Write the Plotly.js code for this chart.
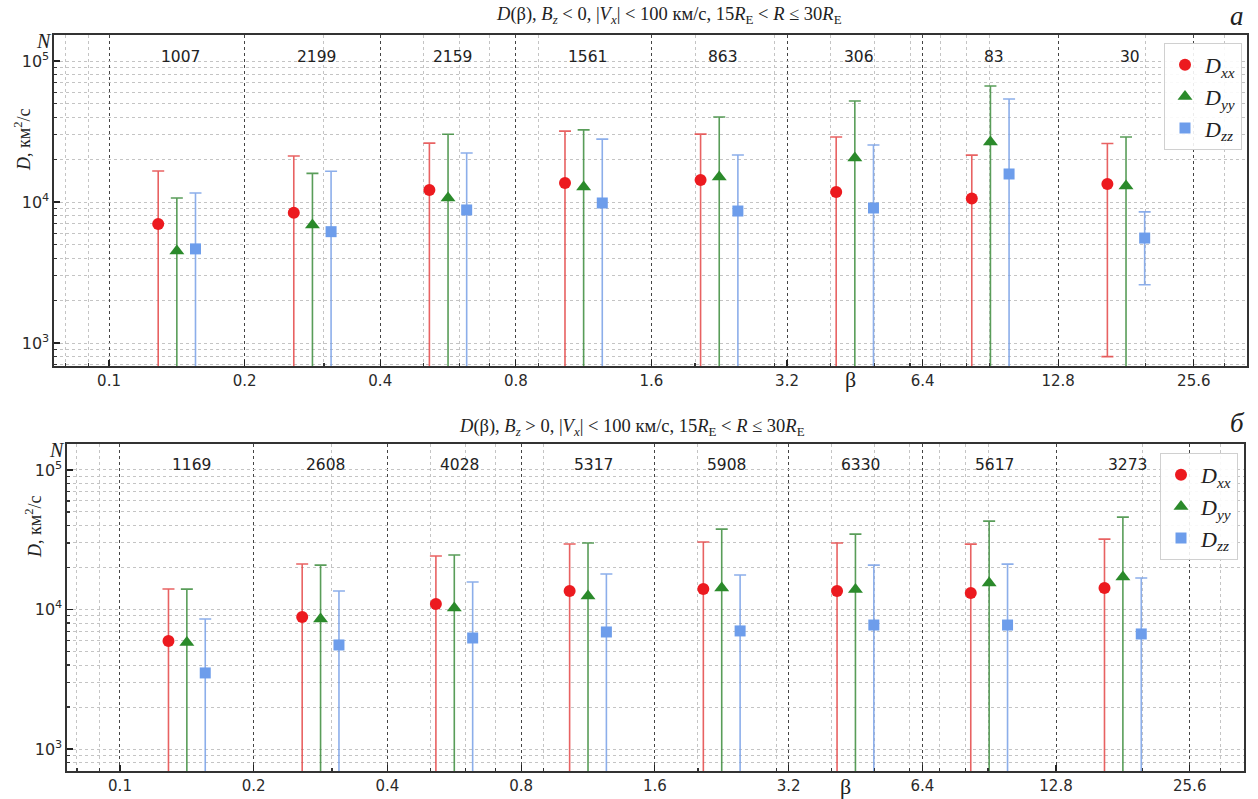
<!DOCTYPE html>
<html><head><meta charset="utf-8">
<script src="https://cdn.plot.ly/plotly-3.0.1.min.js"></script>
<style>html,body{margin:0;padding:0;background:#fff}#chart{width:1258px;height:799px}</style>
</head><body><div id="chart"></div>
<script>
// ---- data ----
const binEdges = [0.1, 0.2, 0.4, 0.8, 1.6, 3.2, 6.4, 12.8, 25.6];
const tickLabels = ['0.1', '0.2', '0.4', '0.8', '1.6', '3.2', '6.4', '12.8', '25.6'];
const countsA = [1007, 2199, 2159, 1561, 863, 306, 83, 30];
const countsB = [1169, 2608, 4028, 5317, 5908, 6330, 5617, 3273];

// panel а : Bz < 0
const DxxA    = [6980, 8400, 12170, 13640, 14320, 11780, 10600, 13400];
const DxxA_sd = [9600, 12800, 14000, 18200, 16000, 17100, 10900, 12600];
const DyyA    = [4490, 6870, 10670, 12780, 15040, 20500, 26600, 12990];
const DyyA_sd = [6180, 9100, 19600, 19700, 25000, 31500, 39900, 15900];
const DzzA    = [4650, 6160, 8780, 9840, 8630, 9070, 15800, 5550];
const DzzA_sd = [6930, 10360, 13500, 18100, 12900, 16300, 38000, 2960];

// panel б : Bz > 0
const DxxB    = [5950, 8840, 10950, 13560, 14020, 13560, 13130, 14260];
const DxxB_sd = [8070, 12340, 13200, 15900, 16400, 16400, 16300, 17700];
const DyyB    = [5800, 8550, 10250, 12490, 14260, 13900, 15480, 17080];
const DyyB_sd = [8200, 12250, 14300, 17450, 23400, 20800, 27500, 28800];
const DzzB    = [3510, 5570, 6250, 6900, 7020, 7740, 7740, 6680];
const DzzB_sd = [5040, 8000, 9500, 11050, 10640, 13060, 13400, 10130];

const minorX = [0.08, 0.09, 0.3, 0.5, 0.6, 0.7, 0.9, 2, 3, 4, 5, 6, 7, 8, 9, 20, 30];
const minorY = [700, 800, 900, 2000, 3000, 4000, 5000, 6000, 7000, 8000, 9000,
                20000, 30000, 40000, 50000, 60000, 70000, 80000, 90000];

// ---- derived ----
const centers = binEdges.slice(0, -1).map((e, i) => Math.sqrt(e * binEdges[i + 1]));
const shift = 1.1;

const styles = [
  {name: '<i>D</i><sub><i>xx</i></sub>', sym: 'circle', size: 12, mc: '#ec1a1f', ec: 'rgba(228,70,70,0.85)', f: 1 / shift},
  {name: '<i>D</i><sub><i>yy</i></sub>', sym: 'triangle-up', size: 13, mc: '#2b8a2b', ec: 'rgba(60,140,60,0.85)', f: 1},
  {name: '<i>D</i><sub><i>zz</i></sub>', sym: 'square', size: 11, mc: '#6d9deb', ec: 'rgba(120,160,230,0.85)', f: shift}
];

function mk(vals, sds, st, xa, ya, leg) {
  return {
    type: 'scatter', mode: 'markers', name: st.name,
    x: centers.map(c => c * st.f), y: vals,
    xaxis: xa, yaxis: ya, legend: leg,
    marker: {symbol: st.sym, size: st.size, color: st.mc, line: {width: 0}},
    error_y: {type: 'data', array: sds, symmetric: true, color: st.ec, thickness: 1.6, width: 6}
  };
}

const traces = [
  mk(DxxA, DxxA_sd, styles[0], 'x', 'y', 'legend'),
  mk(DyyA, DyyA_sd, styles[1], 'x', 'y', 'legend'),
  mk(DzzA, DzzA_sd, styles[2], 'x', 'y', 'legend'),
  mk(DxxB, DxxB_sd, styles[0], 'x2', 'y2', 'legend2'),
  mk(DyyB, DyyB_sd, styles[1], 'x2', 'y2', 'legend2'),
  mk(DzzB, DzzB_sd, styles[2], 'x2', 'y2', 'legend2')
];

const W = 1258, H = 799;
const px = v => v / W, py = v => 1 - v / H;

function xAxis(dom, anchor, range) {
  return {
    domain: dom, anchor: anchor, type: 'log', range: range, autorange: false,
    tickmode: 'array', tickvals: binEdges, ticktext: tickLabels,
    ticks: 'inside', ticklen: 6, tickwidth: 1.2, tickcolor: '#222',
    tickfont: {family: 'DejaVu Sans', size: 15, color: '#2a2a2a'},
    showgrid: true, gridcolor: '#444', griddash: 'dot', gridwidth: 1,
    minor: {tickmode: 'array', tickvals: minorX, ticks: 'inside', ticklen: 3, tickcolor: '#333',
            showgrid: true, gridcolor: '#c4c4c4', griddash: 'dot', gridwidth: 1},
    showline: true, mirror: true, linecolor: '#333', linewidth: 1.6,
    zeroline: false, automargin: false
  };
}
function yAxis(dom, anchor, range) {
  return {
    domain: dom, anchor: anchor, type: 'log', range: range, autorange: false,
    tickmode: 'array', tickvals: [1e3, 1e4, 1e5],
    ticktext: ['10<sup>3</sup>', '10<sup>4</sup>', '10<sup>5</sup>'],
    ticks: 'inside', ticklen: 6, tickwidth: 1.2, tickcolor: '#222',
    tickfont: {family: 'DejaVu Sans', size: 16, color: '#2a2a2a'},
    showgrid: true, gridcolor: '#c4c4c4', griddash: 'dot', gridwidth: 1,
    minor: {tickmode: 'array', tickvals: minorY, ticks: 'inside', ticklen: 3, tickcolor: '#333',
            showgrid: true, gridcolor: '#c4c4c4', griddash: 'dot', gridwidth: 1},
    showline: true, mirror: true, linecolor: '#333', linewidth: 1.6,
    zeroline: false, automargin: false
  };
}

const serif = 'Liberation Serif';
const ann = [];
function txt(x, y, text, size, opts) {
  ann.push(Object.assign({xref: 'paper', yref: 'paper', x: px(x), y: py(y), text: text, showarrow: false,
    xanchor: 'center', yanchor: 'middle', font: {family: serif, size: size, color: '#222'}}, opts || {}));
}
txt(669, 15, '<i>D</i>(β), <i>B</i><sub><i>z</i></sub> &lt; 0, |<i>V</i><sub><i>x</i></sub>| &lt; 100 км/с, 15<i>R</i><sub>E</sub> &lt; <i>R</i> ≤ 30<i>R</i><sub>E</sub>', 18.5);
txt(632, 427, '<i>D</i>(β), <i>B</i><sub><i>z</i></sub> &gt; 0, |<i>V</i><sub><i>x</i></sub>| &lt; 100 км/с, 15<i>R</i><sub>E</sub> &lt; <i>R</i> ≤ 30<i>R</i><sub>E</sub>', 18.5);
txt(1237, 16, '<i>а</i>', 27);
txt(1237, 423, '<i>б</i>', 27);
txt(44, 41, '<i>N</i>', 20);
txt(57, 450, '<i>N</i>', 20);
txt(850, 379, 'β', 22);
txt(845, 786, 'β', 22);
txt(22, 140, '<i>D</i>, км<sup>2</sup>/с', 18, {textangle: -90});
txt(33, 527, '<i>D</i>, км<sup>2</sup>/с', 18, {textangle: -90});

countsA.forEach((n, i) => ann.push({xref: 'x', yref: 'y domain', x: Math.log10(centers[i]), y: 0.967, xshift: 4,
  text: String(n), showarrow: false, font: {family: 'DejaVu Sans', size: 15.5, color: '#222'}}));
countsB.forEach((n, i) => ann.push({xref: 'x2', yref: 'y2 domain', x: Math.log10(centers[i]), y: 0.969, xshift: 5,
  text: String(n), showarrow: false, font: {family: 'DejaVu Sans', size: 15.5, color: '#222'}}));

const legStyle = (x, y) => ({x: x, y: y, xanchor: 'right', yanchor: 'top', bgcolor: 'rgba(255,255,255,0.9)',
  bordercolor: '#d0d0d0', borderwidth: 1, font: {family: serif, size: 22, color: '#222'},
  tracegroupgap: 0, itemwidth: 30});

const layout = {
  width: W, height: H, margin: {l: 0, r: 0, t: 0, b: 0},
  paper_bgcolor: '#fff', plot_bgcolor: '#fff', showlegend: true,
  xaxis: xAxis([px(54), px(1247)], 'y', [-1.1222, 1.5263]),
  yaxis: yAxis([py(366), py(35)], 'x', [2.8369, 5.1844]),
  xaxis2: xAxis([px(67), px(1244)], 'y2', [-1.1193, 1.5304]),
  yaxis2: yAxis([py(771), py(444)], 'x2', [2.8426, 5.186]),
  legend: legStyle(px(1242), py(43)),
  legend2: legStyle(px(1238), py(453)),
  annotations: ann
};

Plotly.newPlot('chart', traces, layout, {staticPlot: true, displayModeBar: false});
</script></body></html>
